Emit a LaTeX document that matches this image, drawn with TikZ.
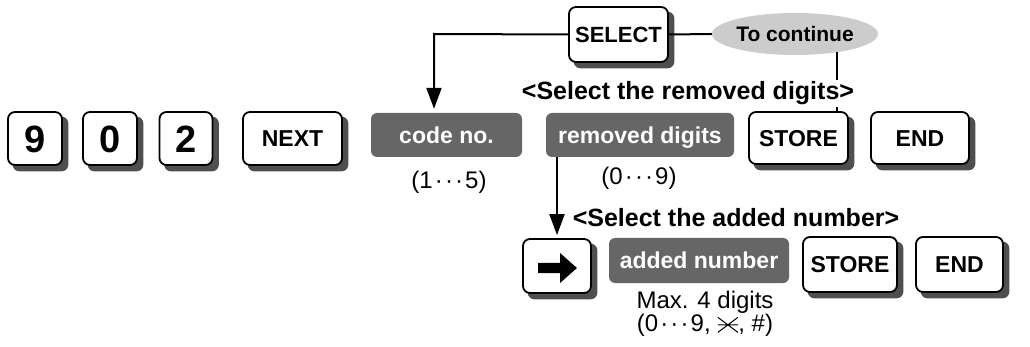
\documentclass[tikz,border=0pt]{standalone}
\usepackage{fontspec}
\setmainfont{Liberation Sans}
\usetikzlibrary{shapes.geometric,arrows.meta,calc}
\pgfdeclarelayer{background}
\pgfsetlayers{background,main}
\definecolor{boxgray}{HTML}{666666}
\definecolor{shadowgray}{HTML}{4F4F4F}
\definecolor{ellgray}{HTML}{CCCCCC}
\newcommand{\cdts}{\kern2pt·\kern2.2pt·\kern2.2pt·\kern2pt}
\newcommand{\fsz}[1]{\fontsize{#1}{#1}\selectfont}
\newcommand{\starsym}{\tikz[x=1pt,y=1pt,baseline=-7pt]{\draw[line width=1pt] (-10,0)--(10,0) (-10,-7.5)--(10,7.5) (-10,7.5)--(10,-7.5);}}
\newcommand{\keyshadow}[1]{\begin{pgfonlayer}{background}\fill[keyshadowstyle] ($(#1.south west)+(5.5,5.5)$) rectangle ($(#1.north east)+(5.5,5.5)$);\end{pgfonlayer}}
\tikzset{
  keybox/.style={draw=black, line width=1.8pt, fill=white, rounded corners=7pt,
    inner sep=0pt, text height=16.5pt, text depth=0pt,
    font=\bfseries\fsz{23}},
  keyshadowstyle/.style={fill=shadowgray, rounded corners=7pt},
  bigkey/.style={keybox, text height=27.2pt, font=\bfseries\fsz{38}},
  graybox/.style={fill=boxgray, rounded corners=6pt, inner sep=0pt, text=white,
    text height=16.5pt, text depth=0pt, font=\bfseries\fsz{23}},
  plain/.style={inner sep=0pt, font=\fsz{24}},
  headline/.style={inner sep=1.5pt, fill=white, font=\bfseries\fsz{25}, anchor=base},
  conn/.style={line width=2pt},
  arr/.style={line width=2pt, -{Triangle[length=21pt,width=15pt]}}
}
\begin{document}
\begin{tikzpicture}[x=1pt,y=-1pt]
\useasboundingbox (0,0) rectangle (1030,347);
% first row
\node[bigkey, minimum width=54pt, minimum height=53pt] (k9) at (35,138.5) {9};
\node[bigkey, minimum width=54pt, minimum height=53pt] (k0) at (110,138.5) {0};
\node[bigkey, minimum width=53pt, minimum height=53pt] (k2) at (186,138.5) {2};
\node[keybox, minimum width=99pt, minimum height=53pt] (next) at (292.5,138.5) {NEXT};
\node[graybox, minimum width=151pt, minimum height=44pt] (code) at (446.5,135) {code no.};
\node[graybox, minimum width=188pt, minimum height=44pt] (rem) at (640,135) {removed digits};
\node[keybox, minimum width=99pt, minimum height=52pt] (store1) at (798.5,138) {STORE};
\node[keybox, minimum width=98pt, minimum height=52pt] (end1) at (920,138) {END};
\node[plain] (r1) at (449,182) {(1\cdts5)};
\node[plain] (r2) at (639,178) {(0\cdts9)};
% top
\node[keybox, minimum width=99pt, minimum height=55pt, text height=15.8pt, font=\bfseries\fsz{22}] (sel) at (618.5,34.5) {SELECT};
\node[ellipse, fill=ellgray, inner sep=0pt, minimum width=144pt, minimum height=42pt,
  text height=15pt, text depth=0pt, font=\bfseries\fsz{21}] (cont) at (795,34) {To continue};
\coordinate (bend) at (434,34);
\coordinate (ct) at (837,52);
\draw[arr, shorten >=4pt] (sel.west) -- (bend) -- (bend |- code.north);
\draw[conn] (sel.east) -- (cont.west);
\draw[conn] (ct) -- (ct |- store1.north);
\node[headline] (h1) at (688,100) {<Select the removed digits>};
% second row
\node[keybox, minimum width=68pt, minimum height=54pt] (ak) at (557,266) {};
\fill[shift={(ak.center)}] (-19,-3) -- (3,-3) -- (3,-13) -- (20,2) -- (3,17) -- (3,7) -- (-19,7) -- cycle;
\draw[arr, shorten >=3pt] (rem.south -| ak.center) -- (ak.north);
\node[headline] (h2) at (736,227) {<Select the added number>};
\node[graybox, minimum width=180pt, minimum height=45pt] (add) at (699,260.5) {added number};
\node[keybox, minimum width=94pt, minimum height=55pt] (store2) at (850,264.5) {STORE};
\node[keybox, minimum width=87pt, minimum height=55pt] (end2) at (959.5,264.5) {END};
\node[inner sep=0pt, align=center, font={\fontsize{24}{22}\selectfont}] (maxd) at (705,314)
  {Max. 4 digits\\(0\cdts9, \starsym, \#)};
% key shadows
\keyshadow{k9}\keyshadow{k0}\keyshadow{k2}\keyshadow{next}
\keyshadow{store1}\keyshadow{end1}\keyshadow{sel}
\keyshadow{ak}\keyshadow{store2}\keyshadow{end2}
\end{tikzpicture}
\end{document}
